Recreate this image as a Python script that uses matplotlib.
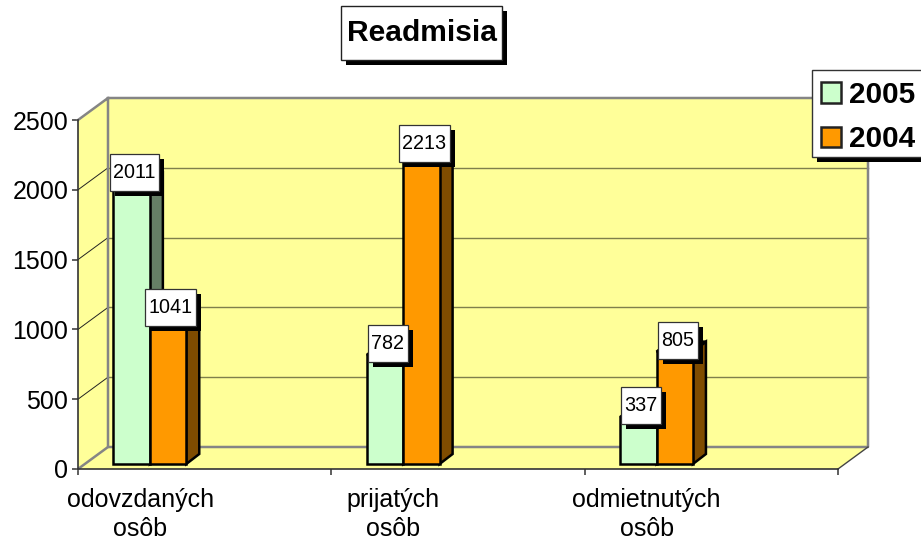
import matplotlib
matplotlib.use('Agg')
import matplotlib.pyplot as plt
import matplotlib.patheffects as pe
from matplotlib.patches import Patch, Rectangle
from matplotlib.path import Path
from matplotlib.transforms import Affine2D
import numpy as np

plt.rcParams['font.family'] = ['Liberation Sans', 'DejaVu Sans']

categories = ['odovzdaných\nosôb', 'prijatých\nosôb', 'odmietnutých\nosôb']
years = ['2005', '2004']
values_2005 = [2011, 782, 337]
values_2004 = [1041, 2213, 805]
y_ticks = [0, 500, 1000, 1500, 2000, 2500]

front_colors = ['#CCFFCC', '#FF9900']
side_colors = ['#667F66', '#7F4C00']
wall = '#FFFF99'

W, H = 921, 540
fig = plt.figure(figsize=(W / 100, H / 100), dpi=100)
ax = fig.add_axes([78 / W, (H - 469) / H, 760 / W, 349 / H])
ax.set_xlim(0, 3)
ax.set_ylim(0, 2500)
ax.patch.set_visible(False)

# depth of the fake 3d box, in data units
dx = 30 / (760 / 3)
dy = 22 / (349 / 2500)
bar_dx = 13 / (760 / 3)
bar_dy = 10 / (349 / 2500)
base = 5 / (349 / 2500)
bar_w = 36.4 / (760 / 3)
bar_off = 0.14

# walls and floor
ax.fill([0, dx, dx, 0], [0, dy, 2500 + dy, 2500], color=wall, lw=0, clip_on=False, zorder=1)
ax.fill([dx, 3 + dx, 3 + dx, dx], [dy, dy, 2500 + dy, 2500 + dy], color=wall, lw=0, clip_on=False, zorder=1)
ax.fill([0, 3, 3 + dx, dx], [0, 0, dy, dy], color=wall, lw=0, clip_on=False, zorder=1)

for t in y_ticks[1:-1]:
    ax.plot([dx, 3 + dx], [t + dy, t + dy], color='#7F7F4C', lw=1.0, clip_on=False, zorder=2)
    ax.plot([0, dx], [t, t + dy], color='#222222', lw=0.7, clip_on=False, zorder=2)

gray = '#858585'
ax.plot([0, dx, 3 + dx, 3 + dx, dx, dx], [2500, 2500 + dy, 2500 + dy, dy, dy, 2500 + dy],
        color=gray, lw=1.8, clip_on=False, zorder=2)
ax.plot([0, dx], [0, dy], color=gray, lw=1.8, clip_on=False, zorder=2)
ax.plot([3, 3 + dx], [0, dy], color='#444444', lw=1.0, clip_on=False, zorder=2)

# bars
x = np.arange(3)
series = [values_2005, values_2004]
z = 3
for s, vals in enumerate(series):
    for i, v in enumerate(vals):
        left = i + bar_off + s * bar_w
        right = left + bar_w
        top = base + v
        ax.fill([right, right + bar_dx, right + bar_dx, right],
                [base, base + bar_dy, top + bar_dy, top],
                facecolor=side_colors[s], edgecolor='black', lw=1.8, clip_on=False, zorder=z)
        ax.fill([left, left + bar_dx, right + bar_dx, right],
                [top, top + bar_dy, top + bar_dy, top],
                facecolor=front_colors[s], edgecolor='black', lw=1.8, clip_on=False, zorder=z)
    ax.bar(x + bar_off + s * bar_w, vals, width=bar_w, bottom=base, align='edge',
           color=front_colors[s], edgecolor='black', lw=1.8, clip_on=False, zorder=z + 1)
    z += 2


def box_style(pad_x, pad_y):
    # rectangle with separate x and y padding, in pixels
    def style(x0, y0, width, height, mutation_size):
        x1, y1 = x0 + width + pad_x, y0 + height + pad_y
        x0, y0 = x0 - pad_x, y0 - pad_y
        return Path([(x0, y0), (x1, y0), (x1, y1), (x0, y1), (x0, y0)],
                    [Path.MOVETO, Path.LINETO, Path.LINETO, Path.LINETO, Path.CLOSEPOLY])
    return style


def shadow_fx():
    return [pe.SimplePatchShadow(offset=(3.6, -3.6), shadow_rgbFace='black', alpha=1, rho=1),
            pe.Normal()]


# data labels
for s, vals in enumerate(series):
    for i, v in enumerate(vals):
        cx = i + bar_off + s * bar_w + bar_w / 2
        t = ax.annotate(str(v), (cx, base + v), xytext=(2, 8), textcoords='offset points',
                        ha='center', va='center', fontsize=14.2, zorder=10, clip_on=False,
                        bbox=dict(boxstyle=box_style(3.5, 9), fc='white', ec='#333333', lw=0.9))
        t.get_bbox_patch().set_path_effects(shadow_fx())

# axes
for side in ['top', 'right']:
    ax.spines[side].set_visible(False)
for side in ['left', 'bottom']:
    ax.spines[side].set_color('#333333')
    ax.spines[side].set_linewidth(1.2)
    ax.spines[side].set_zorder(2.5)

ax.set_yticks(y_ticks)
ax.tick_params(axis='y', labelsize=18, length=4, width=1.1, color='#333333', pad=3)
ax.set_xticks([0, 1, 2, 3])
ax.set_xticklabels([])
ax.tick_params(axis='x', which='major', length=4, width=1.1, color='#333333')
ax.set_xticks(x + 0.245, categories, minor=True)
ax.tick_params(axis='x', which='minor', length=0, labelsize=18, pad=13.5)
for lab in ax.get_xticklabels(minor=True):
    lab.set_linespacing(1.28)

# title
title = fig.text(421.5 / W, 1 - 33 / H, 'Readmisia', fontsize=21.6, fontweight='bold',
                 ha='center', va='center',
                 bbox=dict(boxstyle=box_style(5.5, 13), fc='white', ec='#222222', lw=1.0))
title.get_bbox_patch().set_path_effects(shadow_fx())

# legend
frame = Rectangle((812, H - 157), 130, 87, transform=Affine2D(), fc='white', ec='#333333',
                  lw=1.0, zorder=20)
frame.set_path_effects(shadow_fx())
fig.add_artist(frame)
handles = [Patch(facecolor=c, edgecolor='#222222', lw=1.8) for c in front_colors]
leg = fig.legend(handles, years, loc='upper left', bbox_to_anchor=(821 / W, 1 - 81 / H),
                 borderaxespad=0, prop=dict(weight='bold', size=21.4),
                 handlelength=0.67, handleheight=0.67, handletextpad=0.27, labelspacing=0.55,
                 borderpad=0, frameon=False)
leg.set_zorder(21)

fig.savefig('out.png', dpi=100)
